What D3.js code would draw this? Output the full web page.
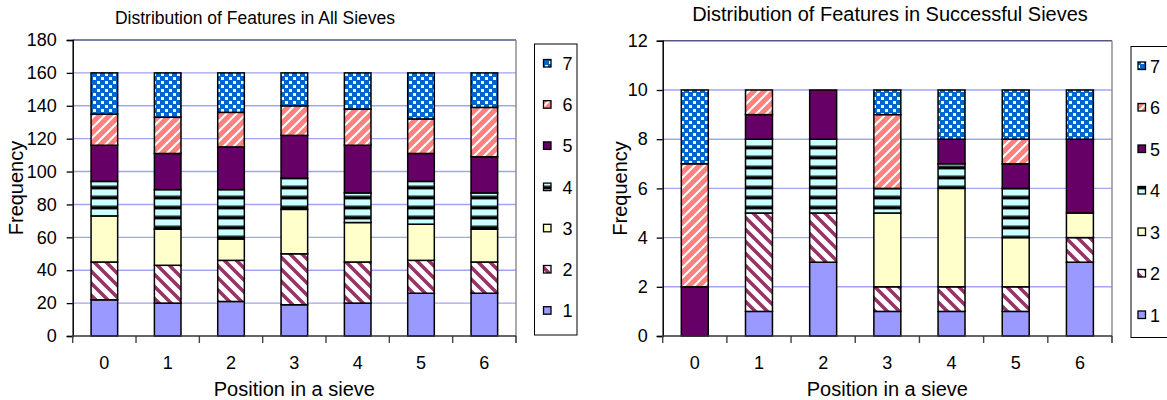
<!DOCTYPE html>
<html><head><meta charset="utf-8">
<script src="https://cdn.jsdelivr.net/npm/d3@7"></script>
<style>body{margin:0;background:#fff}svg{display:block;font-family:Arial,"Liberation Sans",sans-serif}</style>
</head><body><svg id="c" width="1167" height="400"></svg>
<script>
// ---- data ----
const categories = ["0","1","2","3","4","5","6"];
const featureNames = ["1","2","3","4","5","6","7"];

// All sieves (stack order 1..7, each column totals 160)
const allF1 = [22,20,21,19,20,26,26];
const allF2 = [23,23,25,31,25,20,19];
const allF3 = [28,22,13,27,24,22,20];
const allF4 = [21,24,30,19,18,26,22];
const allF5 = [22,22,26,26,29,17,22];
const allF6 = [19,22,21,18,22,21,30];
const allF7 = [25,27,24,20,22,28,21];

// Successful sieves (each column totals 10)
const succF1 = [0,1,3,1,1,1,3];
const succF2 = [0,4,2,1,1,1,1];
const succF3 = [0,0,0,3,4,2,1];
const succF4 = [0,3,3,1,1,2,0];
const succF5 = [2,1,2,0,1,1,3];
const succF6 = [5,1,0,3,0,1,0];
const succF7 = [3,0,0,1,2,2,2];

const allTicks = [0,20,40,60,80,100,120,140,160,180];
const succTicks = [0,2,4,6,8,10,12];
const titleAll = "Distribution of Features in All Sieves";
const titleSucc = "Distribution of Features in Successful Sieves";
const yTitle = "Frequency";
const xTitle = "Position in a sieve";

// ---- patterns ----
const svg = d3.select("#c");
const defs = svg.append("defs");
function pat(id, w, h) {
  return defs.append("pattern").attr("id", id).attr("patternUnits", "userSpaceOnUse")
    .attr("width", w).attr("height", h);
}
// 2: maroon "\" stripes on white
let p = pat("p2", 12, 12);
p.append("rect").attr("width", 12).attr("height", 12).attr("fill", "#fff");
p.append("path").attr("d", "M0,0L12,12M-6,6L6,18M6,-6L18,6").attr("stroke", "#993366").attr("stroke-width", 3.6);
// 4: horizontal cyan / black
p = pat("p4", 10, 10);
p.append("rect").attr("width", 10).attr("height", 10).attr("fill", "#ccffff");
p.append("rect").attr("y", 5).attr("width", 10).attr("height", 1.2).attr("fill", "#6a9a9a");
p.append("rect").attr("y", 6.2).attr("width", 10).attr("height", 2.8).attr("fill", "#000");
p.append("rect").attr("y", 9).attr("width", 10).attr("height", 1).attr("fill", "#6a9a9a");
// 6: salmon with white "/" stripes
p = pat("p6", 10, 10);
p.append("rect").attr("width", 10).attr("height", 10).attr("fill", "#ff8080");
p.append("path").attr("d", "M0,10L10,0M-5,5L5,-5M5,15L15,5").attr("stroke", "#fff").attr("stroke-width", 2);
// 7: blue with white squares
p = pat("p7", 8, 8);
p.append("rect").attr("width", 8).attr("height", 8).attr("fill", "#0066cc");
p.append("rect").attr("x", 1).attr("y", 1).attr("width", 3).attr("height", 3).attr("fill", "#f4f8ff");
p.append("rect").attr("x", 5).attr("y", 5).attr("width", 3).attr("height", 3).attr("fill", "#f4f8ff");

const fills = ["#9999ff", "url(#p2)", "#ffffcc", "url(#p4)", "#660066", "url(#p6)", "url(#p7)"];
const FS = 18;

function drawChart(cfg) {
  const g = svg.append("g");
  const rows = categories.map((c, i) => {
    const r = { cat: c };
    cfg.series.forEach((s, k) => r[featureNames[k]] = s[i]);
    return r;
  });
  const stacked = d3.stack().keys(featureNames)(rows);
  const x = d3.scaleBand().domain(categories).range([cfg.x0, cfg.x1]).paddingInner(0.58).paddingOuter(0.29);
  const y = d3.scaleLinear().domain([0, cfg.ticks[cfg.ticks.length - 1]]).range([cfg.y1, cfg.y0]);

  // gridlines
  g.append("g").selectAll("line").data(cfg.ticks.filter(t => t > 0)).join("line")
    .attr("x1", cfg.x0).attr("x2", cfg.x1).attr("y1", d => y(d)).attr("y2", d => y(d))
    .attr("stroke", (d, i, a) => i === a.length - 1 ? "#555588" : "#a3a3f5").attr("stroke-width", 1.4);
  // right border
  g.append("line").attr("x1", cfg.x1).attr("x2", cfg.x1).attr("y1", cfg.y0).attr("y2", cfg.y1 + 7)
    .attr("stroke", "#888").attr("stroke-width", 1.4);

  // bars
  stacked.forEach((layer, k) => {
    g.append("g").selectAll("rect").data(layer.filter(d => d[1] - d[0] > 0)).join("rect")
      .attr("x", d => x(d.data.cat)).attr("width", x.bandwidth())
      .attr("y", d => y(d[1])).attr("height", d => y(d[0]) - y(d[1]))
      .attr("fill", fills[k]).attr("stroke", "#000").attr("stroke-width", 1.5);
  });

  // y axis
  const ya = g.append("g").attr("transform", `translate(${cfg.x0},0)`)
    .call(d3.axisLeft(y).tickValues(cfg.ticks).tickSize(6).tickPadding(cfg.yPad));
  ya.select(".domain").attr("stroke", "#000").attr("stroke-width", 1.5);
  ya.selectAll(".tick line").attr("stroke", "#000").attr("stroke-width", 1.3);
  ya.selectAll("text").attr("font-size", FS).attr("font-family", "Arial, Liberation Sans, sans-serif").attr("fill", "#000");

  // x axis
  const xa = g.append("g").attr("transform", `translate(0,${cfg.y1})`)
    .call(d3.axisBottom(x).tickSize(0).tickPadding(20));
  xa.select(".domain").remove();
  xa.selectAll("text").attr("font-size", FS).attr("font-family", "Arial, Liberation Sans, sans-serif").attr("fill", "#000");
  const bounds = categories.map(c => x(c) + x.bandwidth() / 2 - x.step() / 2).concat([cfg.x1]);
  g.append("g").selectAll("line").data(bounds).join("line")
    .attr("x1", d => d).attr("x2", d => d).attr("y1", cfg.y1).attr("y2", cfg.y1 + 7)
    .attr("stroke", "#444").attr("stroke-width", 1.4);
  g.append("line").attr("x1", cfg.x0).attr("x2", cfg.x1).attr("y1", cfg.y1).attr("y2", cfg.y1)
    .attr("stroke", "#333").attr("stroke-width", 1.6);

  // titles
  g.append("text").attr("x", cfg.titleX).attr("y", cfg.titleY).attr("text-anchor", "middle")
    .attr("font-size", cfg.titleFS).text(cfg.title);
  g.append("text").attr("transform", `translate(${cfg.yTitleX},${(cfg.y0 + cfg.y1) / 2}) rotate(-90)`)
    .attr("text-anchor", "middle").attr("font-size", 20).text(yTitle);
  g.append("text").attr("x", (cfg.x0 + cfg.x1) / 2).attr("y", 396).attr("text-anchor", "middle")
    .attr("font-size", 20).text(xTitle);

  // legend
  const lg = g.append("g");
  lg.append("rect").attr("x", cfg.lx).attr("y", cfg.ly).attr("width", cfg.lw).attr("height", cfg.lh)
    .attr("fill", "#fff").attr("stroke", "#000").attr("stroke-width", 1);
  const items = featureNames.slice().reverse();
  items.forEach((name, i) => {
    const k = featureNames.indexOf(name);
    const cy = cfg.ly + 19.5 + i * cfg.lstep;
    lg.append("rect").attr("x", cfg.lx + cfg.sx).attr("y", cy - 4).attr("width", 7.5).attr("height", 7.5)
      .attr("fill", fills[k]).attr("stroke", "#000").attr("stroke-width", 1.3);
    lg.append("text").attr("x", cfg.lx + cfg.tx).attr("y", cy + 6.5).attr("font-size", 18).text(name);
  });
}

drawChart({
  series: [allF1, allF2, allF3, allF4, allF5, allF6, allF7], ticks: allTicks,
  x0: 72.7, x1: 516, y0: 40, y1: 336, yPad: 10,
  title: titleAll, titleX: 255, titleY: 24, titleFS: 17.5, yTitleX: 23,
  lx: 534.5, ly: 44, lw: 42.5, lh: 291, lstep: 41.2, sx: 9, tx: 28
});
drawChart({
  series: [succF1, succF2, succF3, succF4, succF5, succF6, succF7], ticks: succTicks,
  x0: 662.7, x1: 1112, y0: 40.8, y1: 336, yPad: 9,
  title: titleSucc, titleX: 890, titleY: 21, titleFS: 20, yTitleX: 627,
  lx: 1131, ly: 46.5, lw: 45, lh: 291, lstep: 41.5, sx: 7, tx: 19
});
</script></body></html>
